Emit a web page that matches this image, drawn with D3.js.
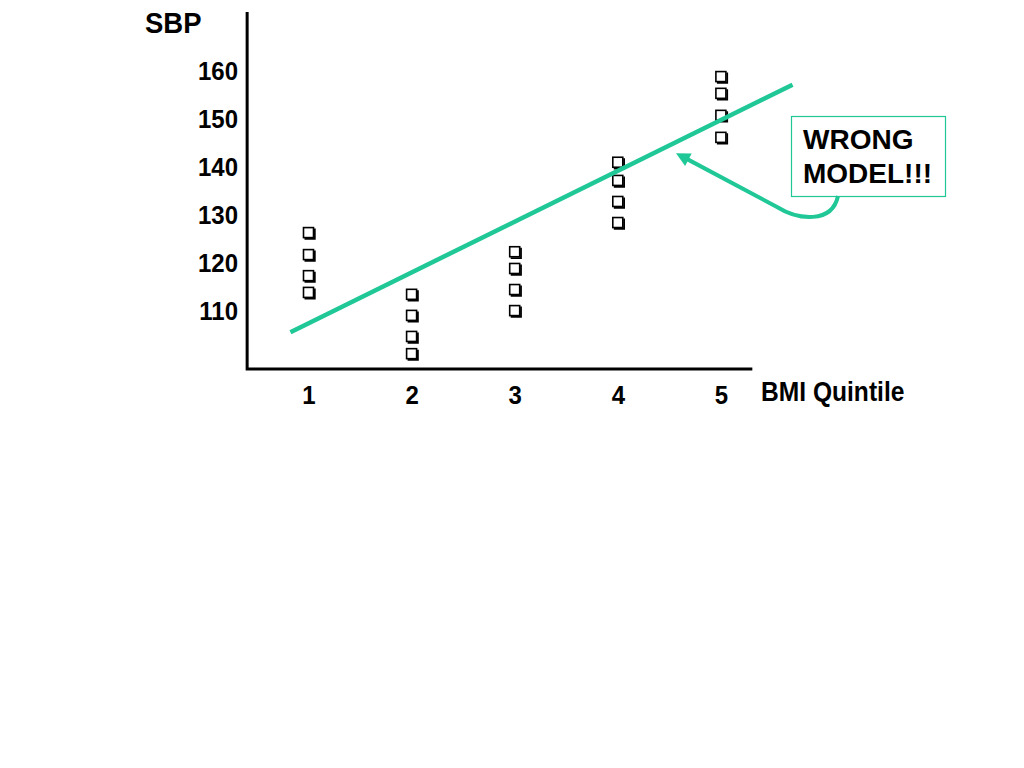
<!DOCTYPE html>
<html><head><meta charset="utf-8">
<script src="https://cdn.jsdelivr.net/npm/d3@7"></script>
<style>html,body{margin:0;padding:0;background:#fff;}svg{display:block;}</style>
</head><body>
<svg id="chart" width="1024" height="768"></svg>
<script>
// ---- data ----
const quintiles = [1, 2, 3, 4, 5];
const xTickLabels = ["1", "2", "3", "4", "5"];
const yTicks = [110, 120, 130, 140, 150, 160];
const sbpQ1 = [126.2, 121.6, 117.2, 113.7];
const sbpQ2 = [113.3, 108.9, 104.5, 100.9];
const sbpQ3 = [122.2, 118.7, 114.3, 109.9];
const sbpQ4 = [140.9, 137.1, 132.7, 128.3];
const sbpQ5 = [158.8, 155.3, 150.7, 146.1];
const fitX = [0.82, 5.69];
const fitY = [105.5, 157.2];
const arrowTip = [4.56, 142.9];
const xTitle = "BMI Quintile";
const yTitle = "SBP";
const noteLines = ["WRONG", "MODEL!!!"];

const green = "#1fc896";
const font = "'Liberation Sans', Arial, Helvetica, sans-serif";
const svg = d3.select("#chart");

const x = d3.scaleLinear().domain([1, 5]).range([309, 721.4]);
const y = d3.scaleLinear().domain([97.8, 172.4]).range([369, 12]);

// axes lines
const axisG = svg.append("g");
axisG.append("path")
  .attr("d", `M${x(0.4)},${y(172.4)}V${y(97.8)}H${x(5.3)}`)
  .attr("fill", "none").attr("stroke", "#000").attr("stroke-width", 3);

// y tick labels
svg.append("g").selectAll("text").data(yTicks).join("text")
  .attr("transform", d => `translate(238,${y(d) + 9}) scale(1,1.1)`)
  .attr("text-anchor", "end")
  .attr("font-family", font).attr("font-weight", "bold").attr("font-size", 24)
  .text(d => d);

// x tick labels
svg.append("g").selectAll("text").data(quintiles).join("text")
  .attr("transform", d => `translate(${x(d)},404) scale(1,1.1)`)
  .attr("text-anchor", "middle")
  .attr("font-family", font).attr("font-weight", "bold").attr("font-size", 24)
  .text((d, i) => xTickLabels[i]);

// titles
svg.append("text").attr("transform", "translate(145,33) scale(1,1.1)")
  .attr("font-family", font).attr("font-weight", "bold").attr("font-size", 27.5)
  .text(yTitle);
svg.append("text").attr("transform", "translate(761,401) scale(1,1.1)")
  .attr("font-family", font).attr("font-weight", "bold").attr("font-size", 24.6)
  .text(xTitle);

// markers
const groups = [sbpQ1, sbpQ2, sbpQ3, sbpQ4, sbpQ5];
const pts = [];
groups.forEach((arr, i) => arr.forEach(v => pts.push({q: quintiles[i], v})));
const mk = svg.append("g").selectAll("g").data(pts).join("g")
  .attr("transform", d => `translate(${x(d.q)},${y(d.v)})`);
mk.append("rect").attr("x", -5.5).attr("y", -5.5).attr("width", 10).attr("height", 10)
  .attr("fill", "#fff").attr("stroke", "#000").attr("stroke-width", 1.6);
mk.append("path").attr("d", "M5.8,-4.5V5.8H-4.5")
  .attr("fill", "none").attr("stroke", "#000").attr("stroke-width", 1.8);

// fitted line
svg.append("line")
  .attr("x1", x(fitX[0])).attr("y1", y(fitY[0]))
  .attr("x2", x(fitX[1])).attr("y2", y(fitY[1]))
  .attr("stroke", green).attr("stroke-width", 4.5).attr("stroke-linecap", "butt");

// annotation box
const box = {x: 791, y: 116, w: 154, h: 80};
svg.append("rect").attr("x", box.x + 0.5).attr("y", box.y + 0.5)
  .attr("width", box.w).attr("height", box.h)
  .attr("fill", "#fff").attr("stroke", green).attr("stroke-width", 1.2);
svg.append("g").selectAll("text").data(noteLines).join("text")
  .attr("x", box.x + 12).attr("y", (d, i) => box.y + 33 + i * 34)
  .attr("font-family", font).attr("font-weight", "bold").attr("font-size", 28)
  .text(d => d);

// curved arrow
const tx = x(arrowTip[0]), ty = y(arrowTip[1]);
const sx = box.x + 47, sy = box.y + box.h;
const ang = Math.atan2(ty - 207, tx - 777);
const hx = tx - 10 * Math.cos(ang), hy = ty - 10 * Math.sin(ang);
svg.append("path")
  .attr("d", `M${sx},${sy} C${sx - 6},${sy + 28} ${sx - 40},${sy + 24} 777,207 L${hx},${hy}`)
  .attr("fill", "none").attr("stroke", green).attr("stroke-width", 4);
const al = 14, aw = 7;
const bx = tx - al * Math.cos(ang), by = ty - al * Math.sin(ang);
const px = -Math.sin(ang), py = Math.cos(ang);
svg.append("path")
  .attr("d", `M${tx},${ty}L${bx + aw * px},${by + aw * py}L${bx - aw * px},${by - aw * py}Z`)
  .attr("fill", green);
</script>
</body></html>
